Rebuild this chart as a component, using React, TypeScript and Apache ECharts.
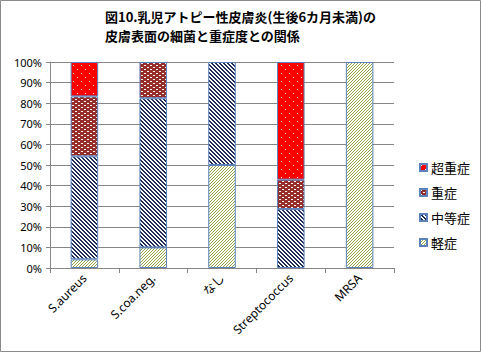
import React, { useEffect, useRef } from "react";
import * as echarts from "echarts";

const titleLines = ["図10.乳児アトピー性皮膚炎(生後6カ月未満)の", "皮膚表面の細菌と重症度との関係"];
const categories = ["S.aureus", "S.coa.neg.", "なし", "Streptococcus", "MRSA"];
const seriesNames = ["軽症", "中等症", "重症", "超重症"];
const mild = [4.2, 10, 50, 0, 100];
const moderate = [50, 72.4, 50, 28.6, 0];
const severe = [29.1, 17.6, 0, 14.3, 0];
const verySevere = [16.7, 0, 0, 57.1, 0];
const yTicks = [0, 10, 20, 30, 40, 50, 60, 70, 80, 90, 100];

function makePattern(w: number, h: number, fn: (x: number, y: number) => [number, number, number]) {
  const c = document.createElement("canvas");
  c.width = w;
  c.height = h;
  const ctx = c.getContext("2d")!;
  const img = ctx.createImageData(w, h);
  for (let y = 0; y < h; y++) {
    for (let x = 0; x < w; x++) {
      const [r, g, b] = fn(x, y);
      const i = (y * w + x) * 4;
      img.data[i] = r;
      img.data[i + 1] = g;
      img.data[i + 2] = b;
      img.data[i + 3] = 255;
    }
  }
  ctx.putImageData(img, 0, 0);
  return { image: c, repeat: "repeat" } as any;
}

export default function App() {
  const ref = useRef<HTMLDivElement>(null);
  useEffect(() => {
    document.body.style.margin = "0";
    const chart = echarts.init(ref.current!, undefined, { renderer: "svg" });
    const white: [number, number, number] = [255, 255, 255];
    const pMild = makePattern(3, 3, (x, y) => ((x + y) % 3 === 0 ? [150, 165, 70] : white));
    const pMod = makePattern(4, 4, (x, y) => (((x - y + 8) % 4) < 2 ? [31, 45, 90] : white));
    const pSev = makePattern(6, 4, (x, y) =>
      (y === 1 && (x === 0 || x === 1)) || (y === 3 && (x === 3 || x === 4)) ? white : [150, 45, 40]
    );
    const pVery = makePattern(8, 8, (x, y) =>
      (x === 1 && y === 1) || (x === 5 && y === 5) ? white : [255, 0, 0]
    );
    const patterns = [pMild, pMod, pSev, pVery];
    const data = [mild, moderate, severe, verySevere];
    const font = "'Noto Sans', 'Noto Sans CJK JP', sans-serif";
    chart.setOption({
      animation: false,
      backgroundColor: "#fff",
      graphic: [
        {
          type: "rect",
          shape: { x: 0.5, y: 0.5, width: 480, height: 351 },
          style: { fill: "none", stroke: "#8a8a8a", lineWidth: 1 },
          silent: true,
        },
        {
          type: "text",
          left: "center",
          top: 7,
          style: {
            text: titleLines.join("\n"),
            font: "bold 13px 'Noto Sans CJK JP', sans-serif",
            lineHeight: 19,
            align: "center",
            fill: "#000",
          },
        },
      ],
      legend: {
        orient: "vertical",
        left: 414,
        top: 156,
        itemWidth: 7,
        itemHeight: 7,
        itemGap: 12,
        icon: "rect",
        data: ["超重症", "重症", "中等症", "軽症"],
        textStyle: { fontFamily: "'Noto Sans CJK JP', sans-serif", fontSize: 13, color: "#000", padding: [0, 0, 0, -1] },
      },
      grid: { left: 50, right: 87, top: 62, bottom: 84 },
      xAxis: {
        type: "category",
        data: categories,
        axisLine: { lineStyle: { color: "#868686" } },
        axisTick: { show: true, length: 5, lineStyle: { color: "#868686" } },
        axisLabel: {
          rotate: 45,
          interval: 0,
          margin: 8,
          fontFamily: font,
          fontSize: 12,
          color: "#000",
        },
      },
      yAxis: {
        type: "value",
        min: 0,
        max: 100,
        interval: 10,
        axisLine: { show: true, lineStyle: { color: "#868686" } },
        axisTick: { show: true, length: 4, lineStyle: { color: "#868686" } },
        splitLine: { lineStyle: { color: "#868686" } },
        axisLabel: {
          formatter: (v: number) => (yTicks.includes(v) ? v + "%" : ""),
          fontFamily: font,
          fontSize: 11,
          color: "#000",
          margin: 8,
        },
      },
      series: seriesNames.map((name, i) => ({
        name,
        type: "bar",
        stack: "total",
        barWidth: "40%",
        data: data[i].map((v) => (v === 0 ? null : v)),
        itemStyle: { color: patterns[i], borderColor: "#5b82bd", borderWidth: 1 },
      })),
    });
    return () => chart.dispose();
  }, []);
  return <div ref={ref} style={{ width: 481, height: 352 }} />;
}
